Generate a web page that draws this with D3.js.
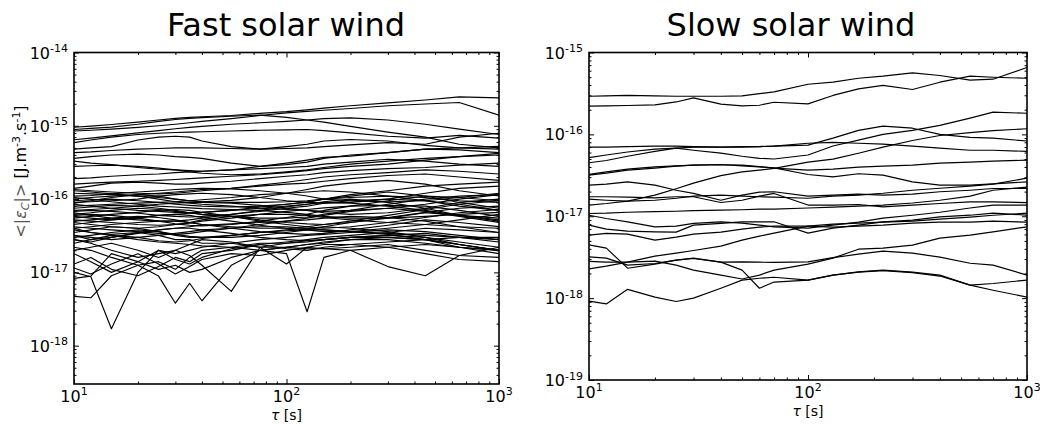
<!DOCTYPE html>
<html><head><meta charset="utf-8">
<script src="https://cdn.jsdelivr.net/npm/d3@7"></script>
<style>body{margin:0;background:#fff} svg{display:block} text{font-family:"DejaVu Sans",sans-serif;fill:#000}</style>
</head><body><svg id="c" width="1040" height="424"></svg>
<script>
// ---- data (values in units of 1e-18 J.m^-3.s^-1) ----
const UNIT = 1e-18;
const TAU_F = [10,12,15,20,25,30,35,40,55,75,100,125,150,200,300,450,650,1000];
const fastUpper = [
 [955,990,1040,1120,1200,1260,1300,1330,1380,1480,1560,1650,1740,1880,2050,2250,2480,2400],
 [850,870,900,950,1000,1050,1100,1150,1250,1380,1500,1570,1630,1720,1880,1980,2080,1400],
 [890,920,960,1050,1150,1220,1260,1290,1350,1400,1300,1200,1120,980,820,700,560,500],
 [645,680,730,800,860,910,950,980,1050,1100,1150,1200,1250,1280,1200,1050,900,760],
 [590,640,700,760,790,810,820,830,850,870,880,890,860,800,720,680,740,680],
 [480,500,520,640,700,720,700,620,520,480,520,560,620,650,620,540,500,480],
 [430,440,460,480,490,500,500,500,490,480,490,500,520,550,590,560,700,790],
 [360,380,400,410,400,380,370,360,310,280,295,320,360,400,430,480,500,525],
 [330,310,295,270,255,250,245,240,250,280,310,340,370,385,430,480,470,430],
 [280,285,290,280,265,250,235,225,215,220,235,250,270,300,330,360,380,400],
 [190,195,205,215,220,230,235,240,250,260,270,280,300,320,350,330,300,280],
 [160,165,170,175,180,185,190,195,205,215,230,245,260,280,300,340,380,420],
 [140,150,165,170,165,160,160,165,175,190,205,215,230,245,260,270,290,310],
 [135,130,125,120,118,120,125,130,140,155,170,185,200,215,230,250,240,220]
];
const fastCore = [
 [100,105,110,115,120,125,130,135,140,150,160,165,175,190,210,220,200,180],
 [95,98,100,95,90,85,82,80,78,80,85,90,100,115,130,150,160,170],
 [90,92,95,100,110,115,118,120,115,105,95,90,88,90,100,120,140,150],
 [85,80,75,70,68,66,65,66,70,78,85,92,100,110,125,110,90,75],
 [80,82,85,88,90,92,95,98,105,115,120,125,130,125,110,95,80,70],
 [75,78,82,80,75,70,65,62,58,55,55,57,62,70,85,100,110,115],
 [70,72,75,80,85,88,90,90,88,82,75,70,65,62,65,75,90,100],
 [68,70,68,64,60,58,57,58,62,68,75,80,88,95,100,95,85,70],
 [65,60,55,52,50,50,52,55,62,70,78,85,92,100,90,75,60,52],
 [62,65,70,75,72,68,65,62,58,52,48,46,45,48,55,65,60,55],
 [60,62,60,55,50,46,44,43,45,50,56,62,70,80,95,110,105,95],
 [58,55,52,55,60,62,64,66,70,75,80,85,90,88,80,70,60,50],
 [55,58,62,66,70,72,70,66,58,50,45,42,40,42,48,56,65,72],
 [52,50,48,45,44,45,47,50,55,62,68,72,76,80,82,80,70,58],
 [50,52,55,58,56,52,48,45,42,40,40,42,45,50,60,72,85,95],
 [48,45,42,40,42,45,48,52,58,62,62,60,56,52,48,45,42,40],
 [45,48,52,56,60,62,60,56,50,44,40,38,36,36,40,45,52,62],
 [42,40,38,36,34,33,34,36,40,45,50,55,60,68,75,68,58,48],
 [40,42,45,48,50,50,48,45,40,36,34,33,34,38,44,52,48,42],
 [38,35,33,35,38,40,42,44,46,48,50,52,55,58,56,50,42,35],
 [35,38,42,40,36,33,31,30,30,32,35,38,42,48,56,66,75,80],
 [32,30,28,30,32,34,36,38,40,42,42,40,38,36,34,32,30,28],
 [30,32,35,38,36,32,30,30,32,35,38,40,42,40,36,30,24,20],
 [28,26,30,34,38,40,40,38,34,30,28,27,28,30,32,30,26,22],
 [120,118,115,110,105,100,95,92,90,90,92,95,100,105,110,105,95,90],
 [110,112,118,125,130,135,138,140,138,130,120,110,100,95,92,95,105,120],
 [130,125,118,110,100,92,88,85,80,75,72,70,68,70,75,85,100,115],
 [25,28,32,30,27,26,27,29,32,35,37,38,38,36,33,28,22,18],
 [105,100,92,85,80,78,76,74,72,70,66,62,58,55,55,58,62,66],
 [88,95,105,115,110,100,95,92,96,105,120,135,150,165,180,160,130,110]
];
const fastLow = [
 [10,8.7,1.7,10,20,18,20,22,25,28,30,32,33,35,38,36,32,28],
 [22,20,16,12.5,8.9,3.8,7.1,4.1,12.5,20,22,24,26,28,30,28,24,20],
 [28,25,20,16,18,20,17,12.5,5.5,22,25,27,28,30,30,28,24,20],
 [40,35,32,28,26,25,24,23,22,20,18,2.9,16,20,22,24,22,20],
 [32,28,30,35,32,28,28,25,25,22,22,21,21,20,12,9,17,22],
 [4.7,4.5,9,12.5,14,11,16,20,22,25,25,26,28,30,32,34,30,26],
 [8.3,8.9,18,14,11,12.5,10,11,16,20,22,24,25,28,28,25,22,20],
 [11.5,9.5,13,18,13,9.5,12,15,18,17,20,22,21,22,24,20,17,16],
 [13,16,11,9,12,16,14,18,20,24,26,28,30,32,35,40,38,35],
 [18,14,10,14,20,15,13,16,21,24,21,20,22,24,26,28,30,30],
 [20,22,25,20,16,20,24,28,26,22,13,22,24,24,22,18,15,14]
];
const TAU_S = [10,12,15,20,25,30,40,50,60,70,100,130,170,220,300,400,550,700,1000];
const slowSeries = [
 [292,295,299,295,292,292,292,295,314,330,410,434,485,514,564,524,459,472,656],
 [221,223,225,229,249,279,234,223,227,247,236,299,360,396,353,434,514,499,485],
 [70,70,71,72,72,71,70,71,71,72,74,90,112,126,119,100,92,90,83],
 [52,56,61,66,68,64,59,54,51,50,56,72,85,100,112,129,158,187,181],
 [45,48,54,62,68,70,70,70,71,72,78,80,78,76,72,68,64,64,62],
 [13.7,14.3,15.3,18.1,21.7,25.4,31.3,34.8,36.6,38.4,45.8,49.8,58.9,69.8,84.2,97,105,111,117],
 [32.4,34.8,37.6,40.1,41.2,42.1,42.9,41.2,40.1,39.0,32.4,30.3,33.0,31.8,26.3,24.0,24.0,24.9,26.3],
 [31.8,33.6,36.6,38.7,40.9,42.1,42.6,42.1,40.3,38.7,36.6,37.6,39.8,40.9,42.1,44.5,45.8,47.1,48.4],
 [24.0,24.7,26.3,24.0,20.8,19.0,15.7,18.1,19.7,19.9,17.6,18.1,18.6,18.1,18.6,19.9,20.8,21.8,21.8],
 [17.3,17.3,17.1,16.8,17.3,17.3,14.7,15.7,17.6,19.0,13.7,13.7,13.9,13.0,13.7,14.3,15.0,15.0,14.7],
 [16.2,15.7,15.3,15.7,16.6,17.6,18.1,17.6,17.3,17.1,16.6,17.6,18.1,19.1,20.8,22.0,23.3,24.7,29.2],
 [10.8,10.9,11.2,11.4,11.5,11.7,11.9,12.0,12.2,12.2,12.6,12.9,13.3,13.7,14.5,15.7,17.6,20.8,22.7],
 [10.3,9.4,8.55,7.43,7.57,8.17,8.55,8.24,7.79,7.43,7.16,7.79,8.47,9.48,10.3,11.2,12.6,13.7,13.7],
 [7.79,6.96,6.58,6.45,6.40,7.79,8.17,8.55,8.55,8.55,6.22,7.16,7.79,8.55,8.96,9.84,10.3,10.9,10.3],
 [5.88,6.17,6.04,5.11,5.56,6.04,6.40,6.96,7.36,7.57,7.57,7.36,7.57,7.79,8.24,8.47,8.47,8.71,8.47],
 [2.28,2.46,2.75,3.26,3.54,3.82,4.32,5.11,5.71,6.22,7.57,8.01,8.24,8.47,8.71,9.22,9.75,10.3,10.9],
 [2.81,2.75,2.75,2.83,2.53,2.20,1.91,1.71,1.91,2.20,2.60,3.08,3.96,4.08,4.44,5.40,5.88,6.45,7.43],
 [3.19,3.08,2.53,2.65,2.91,3.05,2.75,2.77,2.75,2.73,2.77,3.12,3.44,3.75,3.54,3.17,2.67,2.53,1.91],
 [4.48,4.08,2.32,2.60,2.91,3.08,2.75,2.20,1.32,1.57,1.66,1.91,2.08,2.17,2.05,1.86,1.44,1.25,1.03],
 [0.92,0.85,1.28,1.03,0.91,1.0,1.32,1.66,1.75,1.80,1.66,1.91,2.09,2.20,2.08,1.91,1.44,1.51,1.66]
];
const X_TICKS = [10,100,1000];
const X_TICK_EXP = ["1","2","3"];
const FAST_Y_TICKS = [1e-18,1e-17,1e-16,1e-15,1e-14];
const FAST_Y_EXP = ["-18","-17","-16","-15","-14"];
const SLOW_Y_TICKS = [1e-19,1e-18,1e-17,1e-16,1e-15];
const SLOW_Y_EXP = ["-19","-18","-17","-16","-15"];
const TITLES = ["Fast solar wind","Slow solar wind"];

// ---- drawing ----
const svg = d3.select('#c');

function minorTicks(lo, hi){
  const out=[];
  for(let e=Math.floor(Math.log10(lo)); e<=Math.ceil(Math.log10(hi)); e++){
    for(let k=2;k<10;k++){ const v=k*Math.pow(10,e); if(v>lo*1.0001 && v<hi*0.9999) out.push(v); }
  }
  return out;
}

function panel(cfg){
  const x = d3.scaleLog().domain([10,1000]).range([cfg.x0,cfg.x1]);
  const y = d3.scaleLog().domain(cfg.ydom).range([cfg.y1,cfg.y0]);
  const g = svg.append('g');
  const cid = 'clip'+cfg.id;
  svg.append('clipPath').attr('id',cid).append('rect')
    .attr('x',cfg.x0).attr('y',cfg.y0).attr('width',cfg.x1-cfg.x0).attr('height',cfg.y1-cfg.y0);
  const line = d3.line().x(d=>x(d[0])).y(d=>y(d[1]*UNIT));
  const lg = g.append('g').attr('clip-path',`url(#${cid})`);
  cfg.series.forEach(s=>{
    lg.append('path').attr('d', line(cfg.tau.map((t,i)=>[t,s[i]])))
      .attr('fill','none').attr('stroke','#000').attr('stroke-width',1.15)
      .attr('stroke-linejoin','round');
  });
  const xMin = minorTicks(10,1000), yMin = minorTicks(cfg.ydom[0],cfg.ydom[1]);
  const strip = sel=>{ sel.select('.domain').remove(); sel.selectAll('line').attr('stroke','#000'); };
  const add = (axis, tr)=> g.append('g').attr('transform',tr).call(axis).call(strip);
  [[X_TICKS,5],[xMin,2.5]].forEach(([v,s])=>{
    add(d3.axisBottom(x).tickValues(v).tickSize(-s).tickFormat(''), `translate(0,${cfg.y1})`);
    add(d3.axisTop(x).tickValues(v).tickSize(-s).tickFormat(''), `translate(0,${cfg.y0})`);
  });
  [[cfg.yticks,5],[yMin,2.5]].forEach(([v,s])=>{
    add(d3.axisLeft(y).tickValues(v).tickSize(-s).tickFormat(''), `translate(${cfg.x0},0)`);
    add(d3.axisRight(y).tickValues(v).tickSize(-s).tickFormat(''), `translate(${cfg.x1},0)`);
  });
  g.append('rect').attr('x',cfg.x0).attr('y',cfg.y0).attr('width',cfg.x1-cfg.x0).attr('height',cfg.y1-cfg.y0)
    .attr('fill','none').attr('stroke','#000').attr('stroke-width',1.6);
  X_TICKS.forEach((t,i)=>{
    const tx = g.append('text').attr('x',x(t)).attr('y',cfg.y1+17.5).attr('text-anchor','middle').attr('font-size',16);
    tx.append('tspan').text('10');
    tx.append('tspan').attr('dy',-6.5).attr('font-size',11).text(X_TICK_EXP[i]);
  });
  cfg.yticks.forEach((t,i)=>{
    const tx = g.append('text').attr('x',cfg.x0-6).attr('y',y(t)+6).attr('text-anchor','end').attr('font-size',16);
    tx.append('tspan').text('10');
    tx.append('tspan').attr('dy',-6.5).attr('font-size',11).text(cfg.yexp[i]);
  });
  g.append('text').attr('x',cfg.tx).attr('y',36).attr('text-anchor','middle').attr('font-size',32).text(cfg.title);
  const xl = g.append('text').attr('x',(cfg.x0+cfg.x1)/2).attr('y',cfg.xly).attr('text-anchor','middle').attr('font-size',14);
  xl.append('tspan').attr('font-style','italic').text('τ');
  xl.append('tspan').text(' [s]');
}

panel({id:'f', x0:74, x1:499, y0:52.5, y1:384, ydom:[3.0e-19,1e-14], tau:TAU_F,
  series:[...fastUpper,...fastCore,...fastLow], yticks:FAST_Y_TICKS, yexp:FAST_Y_EXP,
  title:TITLES[0], tx:286, xly:419.5});
panel({id:'s', x0:589, x1:1027, y0:52.5, y1:380, ydom:[1e-19,1e-15], tau:TAU_S,
  series:slowSeries, yticks:SLOW_Y_TICKS, yexp:SLOW_Y_EXP,
  title:TITLES[1], tx:791, xly:416});

// y label
const yl = svg.append('text').attr('transform','translate(25.5,171.5) rotate(-90)')
  .attr('text-anchor','middle').attr('font-size',16);
yl.append('tspan').style('fill','#555').text('<|');
yl.append('tspan').attr('font-style','italic').style('fill','#555').text('ε');
yl.append('tspan').attr('font-style','italic').attr('font-size',11).attr('dy',3).style('fill','#555').text('C');
yl.append('tspan').attr('dy',-3).style('fill','#555').text('|>');
yl.append('tspan').text(' [J.m');
yl.append('tspan').attr('dy',-6).attr('font-size',11).text('-3');
yl.append('tspan').attr('dy',6).text('.s');
yl.append('tspan').attr('dy',-6).attr('font-size',11).text('-1');
yl.append('tspan').attr('dy',6).text(']');
</script></body></html>
